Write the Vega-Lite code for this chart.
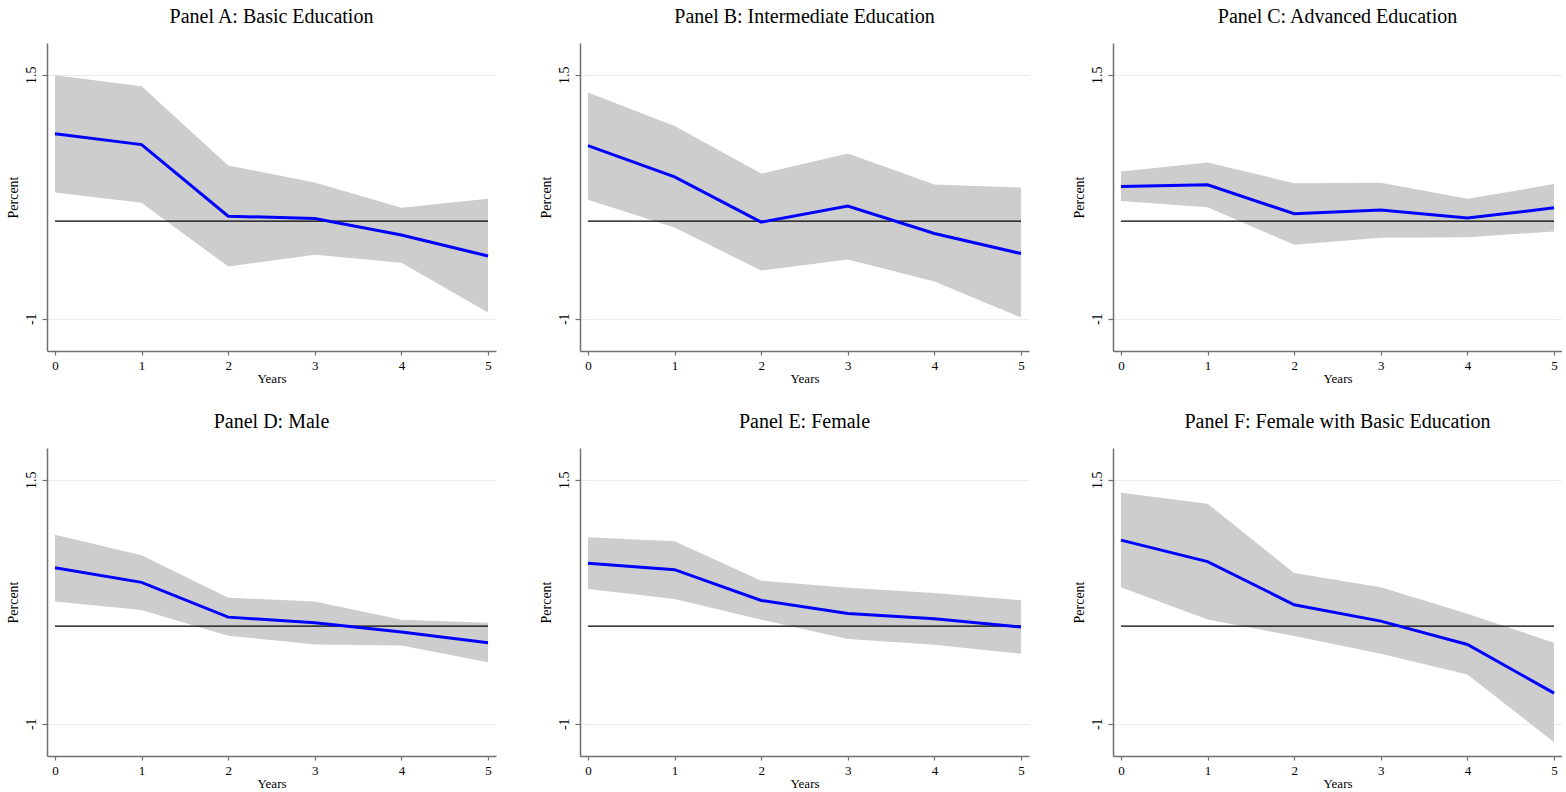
{
  "$schema": "https://vega.github.io/schema/vega-lite/v6.json",
  "background": "white",
  "padding": {"left": 6, "top": 7, "right": 0, "bottom": 0},
  "autosize": {"type": "pad"},
  "datasets": {
    "est": [
      {"panel": "A", "year": 0, "est": 0.894, "lo": 0.293, "hi": 1.494},
      {"panel": "A", "year": 1, "est": 0.784, "lo": 0.187, "hi": 1.382},
      {"panel": "A", "year": 2, "est": 0.051, "lo": -0.465, "hi": 0.569},
      {"panel": "A", "year": 3, "est": 0.027, "lo": -0.345, "hi": 0.395},
      {"panel": "A", "year": 4, "est": -0.143, "lo": -0.427, "hi": 0.136},
      {"panel": "A", "year": 5, "est": -0.358, "lo": -0.936, "hi": 0.228},
      {"panel": "B", "year": 0, "est": 0.774, "lo": 0.218, "hi": 1.316},
      {"panel": "B", "year": 1, "est": 0.453, "lo": -0.066, "hi": 0.975},
      {"panel": "B", "year": 2, "est": -0.010, "lo": -0.506, "hi": 0.487},
      {"panel": "B", "year": 3, "est": 0.154, "lo": -0.393, "hi": 0.692},
      {"panel": "B", "year": 4, "est": -0.127, "lo": -0.618, "hi": 0.375},
      {"panel": "B", "year": 5, "est": -0.332, "lo": -0.987, "hi": 0.344},
      {"panel": "C", "year": 0, "est": 0.354, "lo": 0.205, "hi": 0.508},
      {"panel": "C", "year": 1, "est": 0.372, "lo": 0.143, "hi": 0.600},
      {"panel": "C", "year": 2, "est": 0.075, "lo": -0.243, "hi": 0.389},
      {"panel": "C", "year": 3, "est": 0.113, "lo": -0.171, "hi": 0.392},
      {"panel": "C", "year": 4, "est": 0.031, "lo": -0.164, "hi": 0.228},
      {"panel": "C", "year": 5, "est": 0.136, "lo": -0.106, "hi": 0.379},
      {"panel": "D", "year": 0, "est": 0.598, "lo": 0.253, "hi": 0.936},
      {"panel": "D", "year": 1, "est": 0.448, "lo": 0.164, "hi": 0.727},
      {"panel": "D", "year": 2, "est": 0.092, "lo": -0.098, "hi": 0.291},
      {"panel": "D", "year": 3, "est": 0.035, "lo": -0.188, "hi": 0.253},
      {"panel": "D", "year": 4, "est": -0.061, "lo": -0.198, "hi": 0.066},
      {"panel": "D", "year": 5, "est": -0.170, "lo": -0.369, "hi": 0.035},
      {"panel": "E", "year": 0, "est": 0.645, "lo": 0.379, "hi": 0.909},
      {"panel": "E", "year": 1, "est": 0.578, "lo": 0.277, "hi": 0.868},
      {"panel": "E", "year": 2, "est": 0.263, "lo": 0.066, "hi": 0.465},
      {"panel": "E", "year": 3, "est": 0.130, "lo": -0.133, "hi": 0.393},
      {"panel": "E", "year": 4, "est": 0.076, "lo": -0.191, "hi": 0.338},
      {"panel": "E", "year": 5, "est": -0.010, "lo": -0.283, "hi": 0.266},
      {"panel": "F", "year": 0, "est": 0.881, "lo": 0.397, "hi": 1.367},
      {"panel": "F", "year": 1, "est": 0.660, "lo": 0.069, "hi": 1.254},
      {"panel": "F", "year": 2, "est": 0.219, "lo": -0.102, "hi": 0.543},
      {"panel": "F", "year": 3, "est": 0.051, "lo": -0.283, "hi": 0.397},
      {"panel": "F", "year": 4, "est": -0.188, "lo": -0.495, "hi": 0.127},
      {"panel": "F", "year": 5, "est": -0.686, "lo": -1.189, "hi": -0.170}
    ]
  },
  "data": {"name": "est"},
  "columns": 3,
  "bounds": "flush",
  "spacing": {"row": 97, "column": 84},
  "concat": [
    {
      "title": {"text": "Panel A: Basic Education", "font": "Liberation Serif"},
      "width": 449, "height": 308,
      "transform": [{"filter": "datum.panel === 'A'"}],
      "encoding": {
        "x": {"field": "year", "type": "quantitative", "scale": {"domain": [-0.092, 5.092], "nice": false, "zero": false}, "axis": {"values": [0, 1, 2, 3, 4, 5], "title": "Years"}}
      },
      "layer": [
        {"mark": {"type": "area", "color": "#cdcdcd", "opacity": 1}, "encoding": {"y": {"field": "lo", "type": "quantitative", "scale": {"domain": [-1.33, 1.824], "nice": false, "zero": false}, "axis": {"values": [-1, 1.5], "title": "Percent"}}, "y2": {"field": "hi"}}},
        {"transform": [{"filter": "datum.year === 0"}], "mark": {"type": "rule", "color": "black", "strokeWidth": 1.1}, "encoding": {"x": {"datum": 0}, "x2": {"datum": 5}, "y": {"datum": 0}}},
        {"mark": {"type": "line", "color": "#0000ff", "strokeWidth": 3}, "encoding": {"y": {"field": "est", "type": "quantitative"}}}
      ]
    },
    {
      "title": {"text": "Panel B: Intermediate Education", "font": "Liberation Serif"},
      "width": 449, "height": 308,
      "transform": [{"filter": "datum.panel === 'B'"}],
      "encoding": {
        "x": {"field": "year", "type": "quantitative", "scale": {"domain": [-0.092, 5.092], "nice": false, "zero": false}, "axis": {"values": [0, 1, 2, 3, 4, 5], "title": "Years"}}
      },
      "layer": [
        {"mark": {"type": "area", "color": "#cdcdcd", "opacity": 1}, "encoding": {"y": {"field": "lo", "type": "quantitative", "scale": {"domain": [-1.33, 1.824], "nice": false, "zero": false}, "axis": {"values": [-1, 1.5], "title": "Percent"}}, "y2": {"field": "hi"}}},
        {"transform": [{"filter": "datum.year === 0"}], "mark": {"type": "rule", "color": "black", "strokeWidth": 1.1}, "encoding": {"x": {"datum": 0}, "x2": {"datum": 5}, "y": {"datum": 0}}},
        {"mark": {"type": "line", "color": "#0000ff", "strokeWidth": 3}, "encoding": {"y": {"field": "est", "type": "quantitative"}}}
      ]
    },
    {
      "title": {"text": "Panel C: Advanced Education", "font": "Liberation Serif"},
      "width": 449, "height": 308,
      "transform": [{"filter": "datum.panel === 'C'"}],
      "encoding": {
        "x": {"field": "year", "type": "quantitative", "scale": {"domain": [-0.092, 5.092], "nice": false, "zero": false}, "axis": {"values": [0, 1, 2, 3, 4, 5], "title": "Years"}}
      },
      "layer": [
        {"mark": {"type": "area", "color": "#cdcdcd", "opacity": 1}, "encoding": {"y": {"field": "lo", "type": "quantitative", "scale": {"domain": [-1.33, 1.824], "nice": false, "zero": false}, "axis": {"values": [-1, 1.5], "title": "Percent"}}, "y2": {"field": "hi"}}},
        {"transform": [{"filter": "datum.year === 0"}], "mark": {"type": "rule", "color": "black", "strokeWidth": 1.1}, "encoding": {"x": {"datum": 0}, "x2": {"datum": 5}, "y": {"datum": 0}}},
        {"mark": {"type": "line", "color": "#0000ff", "strokeWidth": 3}, "encoding": {"y": {"field": "est", "type": "quantitative"}}}
      ]
    },
    {
      "title": {"text": "Panel D: Male", "font": "Liberation Serif"},
      "width": 449, "height": 308,
      "transform": [{"filter": "datum.panel === 'D'"}],
      "encoding": {
        "x": {"field": "year", "type": "quantitative", "scale": {"domain": [-0.092, 5.092], "nice": false, "zero": false}, "axis": {"values": [0, 1, 2, 3, 4, 5], "title": "Years"}}
      },
      "layer": [
        {"mark": {"type": "area", "color": "#cdcdcd", "opacity": 1}, "encoding": {"y": {"field": "lo", "type": "quantitative", "scale": {"domain": [-1.33, 1.824], "nice": false, "zero": false}, "axis": {"values": [-1, 1.5], "title": "Percent"}}, "y2": {"field": "hi"}}},
        {"transform": [{"filter": "datum.year === 0"}], "mark": {"type": "rule", "color": "black", "strokeWidth": 1.1}, "encoding": {"x": {"datum": 0}, "x2": {"datum": 5}, "y": {"datum": 0}}},
        {"mark": {"type": "line", "color": "#0000ff", "strokeWidth": 3}, "encoding": {"y": {"field": "est", "type": "quantitative"}}}
      ]
    },
    {
      "title": {"text": "Panel E: Female", "font": "Liberation Serif"},
      "width": 449, "height": 308,
      "transform": [{"filter": "datum.panel === 'E'"}],
      "encoding": {
        "x": {"field": "year", "type": "quantitative", "scale": {"domain": [-0.092, 5.092], "nice": false, "zero": false}, "axis": {"values": [0, 1, 2, 3, 4, 5], "title": "Years"}}
      },
      "layer": [
        {"mark": {"type": "area", "color": "#cdcdcd", "opacity": 1}, "encoding": {"y": {"field": "lo", "type": "quantitative", "scale": {"domain": [-1.33, 1.824], "nice": false, "zero": false}, "axis": {"values": [-1, 1.5], "title": "Percent"}}, "y2": {"field": "hi"}}},
        {"transform": [{"filter": "datum.year === 0"}], "mark": {"type": "rule", "color": "black", "strokeWidth": 1.1}, "encoding": {"x": {"datum": 0}, "x2": {"datum": 5}, "y": {"datum": 0}}},
        {"mark": {"type": "line", "color": "#0000ff", "strokeWidth": 3}, "encoding": {"y": {"field": "est", "type": "quantitative"}}}
      ]
    },
    {
      "title": {"text": "Panel F: Female with Basic Education", "font": "Liberation Serif"},
      "width": 449, "height": 308,
      "transform": [{"filter": "datum.panel === 'F'"}],
      "encoding": {
        "x": {"field": "year", "type": "quantitative", "scale": {"domain": [-0.092, 5.092], "nice": false, "zero": false}, "axis": {"values": [0, 1, 2, 3, 4, 5], "title": "Years"}}
      },
      "layer": [
        {"mark": {"type": "area", "color": "#cdcdcd", "opacity": 1}, "encoding": {"y": {"field": "lo", "type": "quantitative", "scale": {"domain": [-1.33, 1.824], "nice": false, "zero": false}, "axis": {"values": [-1, 1.5], "title": "Percent"}}, "y2": {"field": "hi"}}},
        {"transform": [{"filter": "datum.year === 0"}], "mark": {"type": "rule", "color": "black", "strokeWidth": 1.1}, "encoding": {"x": {"datum": 0}, "x2": {"datum": 5}, "y": {"datum": 0}}},
        {"mark": {"type": "line", "color": "#0000ff", "strokeWidth": 3}, "encoding": {"y": {"field": "est", "type": "quantitative"}}}
      ]
    }
  ],
  "config": {
    "font": "Liberation Serif",
    "view": {"stroke": null},
    "title": {"font": "Liberation Serif", "fontSize": 20, "fontWeight": "normal", "color": "black", "anchor": "middle", "baseline": "alphabetic", "offset": 16},
    "axis": {
      "labelFont": "Liberation Serif",
      "titleFont": "Liberation Serif",
      "labelColor": "black",
      "titleColor": "black",
      "titleFontWeight": "normal",
      "domainColor": "#707070",
      "domainWidth": 1.5,
      "tickColor": "#707070",
      "tickWidth": 1.2
    },
    "axisX": {
      "grid": false,
      "tickSize": 4,
      "labelFontSize": 13,
      "labelPadding": 4,
      "labelAngle": 0,
      "titleFontSize": 13,
      "titlePadding": 0
    },
    "axisY": {
      "grid": true,
      "gridColor": "#e6eeef",
      "gridWidth": 1,
      "tickSize": 5,
      "labelFontSize": 14,
      "labelAngle": 270,
      "labelAlign": "center",
      "labelBaseline": "bottom",
      "labelPadding": 4,
      "labelExpr": "datum.value < 0 ? '-' + abs(datum.value) : '' + datum.value",
      "titleFontSize": 14,
      "titlePadding": 4
    }
  }
}
